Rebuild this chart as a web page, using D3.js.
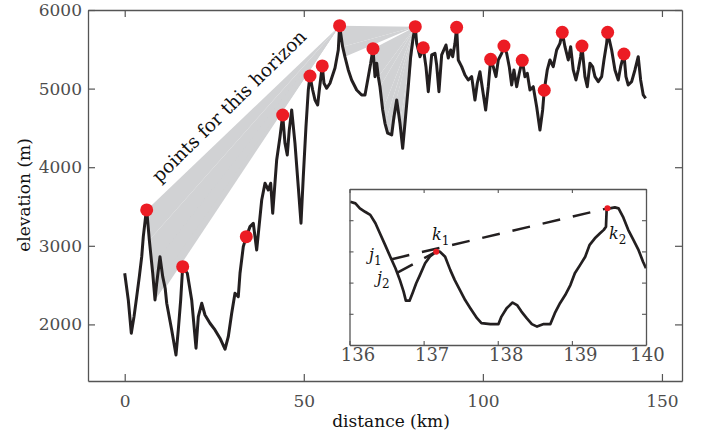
<!DOCTYPE html>
<html>
<head>
<meta charset="utf-8">
<script src="https://cdn.jsdelivr.net/npm/d3@7"></script>
<style>
body { margin: 0; background: #fff; }
</style>
</head>
<body>
<script>
var width = 704,
    height = 439;

// elevation profile, traced (distance km, elevation m)
var distKm = [0.00, 1.00, 1.84, 2.60, 3.35, 4.08, 4.75, 5.19, 5.95, 6.14, 6.87, 7.82, 8.46, 8.93, 9.85, 10.61, 11.30, 11.73,
  13.12, 14.32, 14.96, 15.63, 16.19, 17.48, 18.70, 19.91, 20.55, 21.50, 22.42, 23.81, 25.21, 26.60, 28.00, 28.92, 29.87,
  30.79, 31.71, 32.19, 33.11, 33.95, 34.98, 35.90, 36.85, 38.25, 39.17, 40.09, 40.76, 41.32, 42.43, 43.36, 44.11, 44.75,
  45.39, 45.95, 46.62, 47.54, 48.46, 49.22, 49.86, 50.61, 51.26, 51.73, 52.48, 53.13, 53.88, 54.33, 55.16, 55.64, 56.39,
  57.31, 58.71, 59.63, 60.00, 60.84, 61.48, 62.42, 63.36, 64.77, 66.16, 67.09, 68.01, 68.68, 69.32, 69.88, 70.36, 70.80,
  71.27, 72.03, 72.67, 73.42, 74.54, 75.18, 75.94, 76.86, 77.61, 78.34, 79.17, 79.84, 80.57, 81.13, 81.52, 82.44, 83.36,
  84.11, 84.76, 85.71, 86.63, 87.10, 87.74, 88.50, 89.70, 90.34, 91.01, 91.57, 92.21, 92.68, 93.13, 94.08, 95.00, 95.92,
  96.87, 97.79, 98.44, 99.19, 99.94, 100.78, 101.51, 102.18, 102.90, 103.66, 104.30, 105.25, 105.89, 106.64, 107.37,
  108.04, 108.68, 109.44, 110.16, 111.00, 111.75, 112.40, 113.15, 114.07, 115.02, 115.94, 116.69, 117.14, 117.98, 118.73,
  119.65, 120.60, 121.52, 122.17, 122.92, 123.84, 124.51, 125.24, 125.99, 126.63, 127.30, 127.67, 128.50, 129.15, 129.90,
  130.65, 131.30, 132.22, 133.17, 133.81, 134.56, 134.84, 135.96, 136.88, 137.80, 138.47, 139.39, 139.95, 140.59, 141.54,
  142.46, 143.38, 144.05, 144.78, 145.45];
var elevM = [2651, 2311, 1888, 2099, 2353, 2608, 2862, 3116, 3414, 3456, 3074, 2651, 2311, 2524, 2862, 2608, 2460, 2269,
  1930, 1612, 1930, 2311, 2735, 2651, 2311, 1697, 2099, 2269, 2120, 2015, 1930, 1824, 1684, 1844, 2142,
  2396, 2353, 2651, 2989, 3116, 3244, 3287, 2947, 3583, 3796, 3710, 3796, 3414, 4092, 4388, 4664, 4304,
  4156, 4474, 4728, 4304, 3752, 3287, 3880, 4516, 4982, 5160, 4982, 4855, 4792, 4982, 5288, 5068, 5004,
  5068, 5262, 5491, 5800, 5533, 5406, 5237, 5110, 4982, 4919, 4919, 5152, 5322, 5508, 5152, 5322, 5152,
  5024, 4728, 4559, 4432, 4410, 4643, 4855, 4559, 4241, 4601, 5024, 5406, 5660, 5788, 5576, 5406, 5520,
  5279, 4961, 5428, 5449, 5300, 4961, 5428, 5555, 5389, 5491, 5406, 5576, 5780, 5364, 5279, 5173, 5110,
  5152, 4855, 5068, 5215, 4982, 4728, 5024, 5373, 5279, 5152, 5364, 5449, 5542, 5449, 5279,
  5046, 5237, 5024, 5195, 5360, 5152, 5195, 4982, 5024, 4770, 4474, 4728, 4979, 5237, 5364,
  5279, 5491, 5576, 5716, 5533, 5364, 5533, 5237, 5110, 5237, 5406, 5542, 5152, 5024, 5322,
  5279, 5152, 5088, 5152, 5364, 5576, 5716, 5491, 5237, 5110, 5279, 5440, 5152, 5046, 5088,
  5237, 5406, 5110, 4919, 4877];

// horizon points (red)
var peakKm = [6.14, 16.19, 33.95, 44.11, 51.73, 55.16, 60.00, 69.32, 81.13, 83.36, 92.68, 102.18, 105.89, 111.00, 117.14, 122.17, 127.67, 134.84, 139.39];
var peakM = [3456, 2735, 3116, 4664, 5160, 5288, 5800, 5508, 5788, 5520, 5780, 5373, 5542, 5360, 4979, 5716, 5542, 5716, 5440];

// sight-line fans: horizon point and range of profile points that see it
var fanHorizonKm = [60.00, 81.13, 81.13];
var fanFromKm = [6.14, 60.00, 69.32];
var fanToKm = [11.30, 61.48, 81.13];

// inset: zoom on 136-140 km
var insetKm = [136.01, 136.08, 136.14, 136.21, 136.28, 136.35, 136.41, 136.48, 136.55, 136.62, 136.68, 136.73, 136.76,
  136.81, 136.85, 136.90, 136.95, 137.02, 137.09, 137.17, 137.22, 137.29, 137.36, 137.42, 137.49, 137.56, 137.63, 137.72,
  137.78, 137.90, 138.01, 138.05, 138.12, 138.20, 138.26, 138.32, 138.39, 138.46, 138.53, 138.62, 138.71, 138.77, 138.84,
  138.91, 138.98, 139.04, 139.11, 139.18, 139.24, 139.31, 139.38, 139.43, 139.46, 139.47, 139.51, 139.58, 139.63, 139.69,
  139.76, 139.83, 139.90, 139.96, 140.00];
var insetM = [5459, 5454, 5438, 5427, 5417, 5390, 5358, 5321, 5283, 5246, 5208, 5171, 5142,
  5142, 5166, 5198, 5224, 5262, 5285, 5299, 5299, 5283, 5240, 5208, 5176, 5144, 5118, 5086,
  5070, 5067, 5067, 5091, 5118, 5136, 5128, 5107, 5086, 5067, 5059, 5067, 5067, 5102, 5134,
  5160, 5192, 5230, 5256, 5283, 5321, 5342, 5358, 5369, 5379, 5438, 5438, 5441, 5438, 5411,
  5369, 5337, 5304, 5267, 5246];
var insetDotKm = [137.17, 139.48],
    insetDotM = [5299, 5438];
var sightFromKm = [136.57, 136.64], sightFromM = [5275, 5231];
var sightToKm = [139.48, 137.17], sightToM = [5438, 5299];

var xTicks = [0, 50, 100, 150],
    yTicks = [2000, 3000, 4000, 5000, 6000],
    insetXTicks = [136, 137, 138, 139, 140],
    insetYTicks = [5100, 5200, 5300, 5400];

var serif = "'DejaVu Serif', serif",
    axisGrey = "#555555",
    lineBlack = "#231f20",
    red = "#ec1c24",
    fanGrey = "#d1d2d4";

svg = d3.select("body")
      .append("svg")
      .attr("width", width)
      .attr("height", height);

var x = d3.scaleLinear().domain([-10.25, 155.6]).range([88, 682]),
    y = d3.scaleLinear().domain([1280, 6000]).range([381, 10]);

var profile = distKm.map(function(d, i) { return {km: d, m: elevM[i]}; });

// ================ fans ================
var gFan = svg.append("g").attr("id", "fans");
for (var f = 0; f < fanHorizonKm.length; f++) {
    var h = profile[d3.minIndex(profile, function(p) { return Math.abs(p.km - fanHorizonKm[f]); })];
    var src = profile.filter(function(p) { return p.km >= fanFromKm[f] - 1e-6 && p.km <= fanToKm[f] + 1e-6; });
    for (var s = 0; s < src.length - 1; s++) {
        gFan.append("path")
            .attr("d", "M" + x(src[s].km) + "," + y(src[s].m) +
                       "L" + x(src[s + 1].km) + "," + y(src[s + 1].m) +
                       "L" + x(h.km) + "," + y(h.m) + "Z")
            .attr("fill", fanGrey);
    }
}

// label along the fan
svg.append("text")
    .attr("transform", "translate(229,106) rotate(-44.5)")
    .attr("text-anchor", "middle")
    .attr("dy", "0.35em")
    .attr("font-family", serif)
    .attr("font-size", "18.5px")
    .attr("fill", "#111")
    .text("points for this horizon");

// ================ profile ================
var line = d3.line()
    .x(function(d) { return x(d.km); })
    .y(function(d) { return y(d.m); });

svg.append("path")
    .datum(profile)
    .attr("d", line)
    .attr("fill", "none")
    .attr("stroke", lineBlack)
    .attr("stroke-width", 3)
    .attr("stroke-linejoin", "round");

svg.append("g").selectAll("circle")
    .data(peakKm)
    .enter().append("circle")
    .attr("cx", function(d) { return x(d); })
    .attr("cy", function(d, i) { return y(peakM[i]); })
    .attr("r", 6.5)
    .attr("fill", red);

// ================ axes ================
function styleAxis(g) {
    g.attr("font-family", serif).attr("font-size", "17px");
    g.select(".domain").attr("stroke", axisGrey).attr("stroke-width", 1.3);
    g.selectAll(".tick line").attr("stroke", axisGrey).attr("stroke-width", 1.2);
    g.selectAll(".tick text").attr("fill", "#4d4d4d");
}

svg.append("g").attr("transform", "translate(0,381)")
    .call(d3.axisBottom(x).tickValues(xTicks).tickFormat(d3.format("d")).tickSizeInner(-7).tickSizeOuter(0).tickPadding(14))
    .call(styleAxis);
svg.append("g").attr("transform", "translate(0,10)")
    .call(d3.axisTop(x).tickValues(xTicks).tickSizeInner(-7).tickSizeOuter(0).tickFormat(""))
    .call(styleAxis);
svg.append("g").attr("transform", "translate(88,0)")
    .call(d3.axisLeft(y).tickValues(yTicks).tickFormat(d3.format("d")).tickSizeInner(-7).tickSizeOuter(0).tickPadding(6))
    .call(styleAxis);
svg.append("g").attr("transform", "translate(682,0)")
    .call(d3.axisRight(y).tickValues(yTicks).tickSizeInner(-7).tickSizeOuter(0).tickFormat(""))
    .call(styleAxis);

svg.append("text")
    .attr("x", 391).attr("y", 427)
    .attr("text-anchor", "middle")
    .attr("font-family", serif).attr("font-size", "17px")
    .attr("fill", "#111")
    .text("distance (km)");

svg.append("text")
    .attr("transform", "translate(30,195) rotate(-90)")
    .attr("text-anchor", "middle")
    .attr("font-family", serif).attr("font-size", "17px")
    .attr("fill", "#111")
    .text("elevation (m)");

// ================ inset ================
var ix = d3.scaleLinear().domain([136, 140]).range([349.5, 646]),
    iy = d3.scaleLinear().domain([5000, 5500]).range([345, 189]);

var gi = svg.append("g").attr("id", "inset");
gi.append("rect")
    .attr("x", ix(136)).attr("y", iy(5500))
    .attr("width", ix(140) - ix(136)).attr("height", iy(5000) - iy(5500))
    .attr("fill", "#fff");

gi.append("path")
    .datum(insetKm.map(function(d, i) { return {km: d, m: insetM[i]}; }))
    .attr("d", d3.line().x(function(d) { return ix(d.km); }).y(function(d) { return iy(d.m); }))
    .attr("fill", "none")
    .attr("stroke", lineBlack)
    .attr("stroke-width", 2.7)
    .attr("stroke-linejoin", "round");

// sight lines j -> k
gi.selectAll(".sight")
    .data(sightFromKm)
    .enter().append("line")
    .attr("class", "sight")
    .attr("x1", function(d) { return ix(d); })
    .attr("y1", function(d, i) { return iy(sightFromM[i]); })
    .attr("x2", function(d, i) { return ix(sightToKm[i]); })
    .attr("y2", function(d, i) { return iy(sightToM[i]); })
    .attr("stroke", lineBlack)
    .attr("stroke-width", 2.5)
    .attr("stroke-dasharray", "18,13");

gi.selectAll(".kdot")
    .data(insetDotKm)
    .enter().append("circle")
    .attr("class", "kdot")
    .attr("cx", function(d) { return ix(d); })
    .attr("cy", function(d, i) { return iy(insetDotM[i]); })
    .attr("r", 3)
    .attr("fill", red);

function styleInset(g) {
    g.attr("font-family", serif).attr("font-size", "18px");
    g.select(".domain").attr("stroke", axisGrey).attr("stroke-width", 1.3);
    g.selectAll(".tick line").attr("stroke", axisGrey).attr("stroke-width", 1.1);
    g.selectAll(".tick text").attr("fill", "#4d4d4d");
}

gi.append("g").attr("transform", "translate(0," + iy(5000) + ")")
    .call(d3.axisBottom(ix).tickValues(insetXTicks).tickFormat(d3.format("d")).tickSizeInner(-4).tickSizeOuter(0).tickPadding(3))
    .call(styleInset)
    .selectAll(".tick text")
    .attr("dx", function(d) { return d === 140 ? 1 : 8; });
gi.append("g").attr("transform", "translate(0," + iy(5500) + ")")
    .call(d3.axisTop(ix).tickValues(insetXTicks).tickSizeInner(-4).tickSizeOuter(0).tickFormat(""))
    .call(styleInset);
gi.append("g").attr("transform", "translate(" + ix(136) + ",0)")
    .call(d3.axisLeft(iy).tickValues(insetYTicks).tickSizeInner(-4).tickSizeOuter(0).tickFormat(""))
    .call(styleInset);
gi.append("g").attr("transform", "translate(" + ix(140) + ",0)")
    .call(d3.axisRight(iy).tickValues(insetYTicks).tickSizeInner(-4).tickSizeOuter(0).tickFormat(""))
    .call(styleInset);

// point labels
var pointLabels = [
    {name: "j", sub: "1", px: 369, py: 260},
    {name: "j", sub: "2", px: 377, py: 283},
    {name: "k", sub: "1", px: 432, py: 240},
    {name: "k", sub: "2", px: 609, py: 239}
];
pointLabels.forEach(function(l) {
    var t = gi.append("text")
        .attr("x", l.px).attr("y", l.py)
        .attr("font-family", serif)
        .attr("font-style", "italic")
        .attr("font-size", "16px")
        .attr("fill", "#111");
    t.append("tspan").text(l.name);
    t.append("tspan").attr("font-size", "12px").attr("font-style", "normal").attr("dy", "5").text(l.sub);
});
</script>
</body>
</html>
